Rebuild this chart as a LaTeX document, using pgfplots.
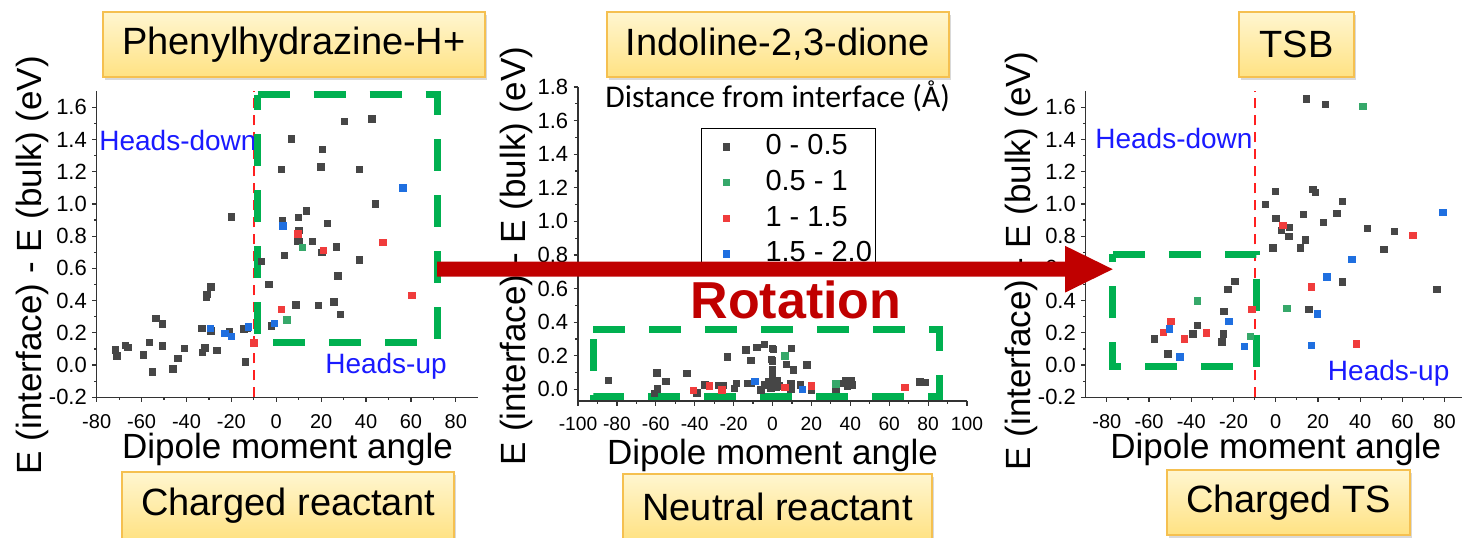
\documentclass[border=0pt]{standalone}
\usepackage{pgfplots}
\pgfplotsset{compat=1.18}
\usepackage{fontspec}
\setmainfont{Liberation Sans}
\newfontfamily\carlito{Carlito}
\usetikzlibrary{shadows}
\definecolor{cgray}{HTML}{464646}
\definecolor{cgreen}{HTML}{36A86A}
\definecolor{cred}{HTML}{F03C3C}
\definecolor{cblue}{HTML}{1F6FE0}
\definecolor{boxgreen}{HTML}{00B050}
\definecolor{darkred}{HTML}{C00000}
\definecolor{axiscol}{HTML}{333333}
\definecolor{boxtop}{HTML}{FFF6D0}
\definecolor{boxbot}{HTML}{FFE283}
\definecolor{boxline}{HTML}{F5C050}
\definecolor{headblue}{HTML}{1A1AFF}
\definecolor{vred}{HTML}{FF2020}

\pgfplotsset{
  panel/.style={
    scale only axis, clip=false,
    axis x line*=bottom, axis y line*=left,
    axis line style={axiscol, line width=0.7pt, -},
    tick align=outside, tick style={axiscol, line width=0.6pt},
    major tick length=2.2pt, minor tick length=1.3pt,
    minor x tick num=1, minor y tick num=1,
    yticklabel style={font=\fontsize{11}{12}\selectfont, xshift=0.8pt,
      /pgf/number format/fixed, /pgf/number format/fixed zerofill,
      /pgf/number format/precision=1, /pgf/number format/assume math mode=true},
    xticklabel style={font=\fontsize{10}{11}\selectfont, inner sep=1pt, yshift=-5.3pt,
      /pgf/number format/fixed, /pgf/number format/precision=0,
      /pgf/number format/assume math mode=true},
    label style={font=\fontsize{17.5}{20}\selectfont, inner sep=0pt},
    xlabel={Dipole moment angle},
    ylabel={E (interface) - E (bulk) (eV)},
  },
  pgray/.style={only marks, mark=square*, mark size=1.6pt, color=cgray},
  pgreen/.style={only marks, mark=square*, mark size=1.6pt, color=cgreen},
  pred/.style={only marks, mark=square*, mark size=1.6pt, color=cred},
  pblue/.style={only marks, mark=square*, mark size=1.6pt, color=cblue},
}
\tikzset{
  gbox/.style={boxgreen, line width=3.5pt, dash pattern=on 16pt off 12pt},
  heads/.style={font=\fontsize{14}{16}\selectfont, text=headblue, inner sep=0pt},
  titlebox/.style={draw=boxline, line width=0.8pt, top color=boxtop, bottom color=boxbot,
    drop shadow={shadow xshift=1pt, shadow yshift=-1.5pt, opacity=0.3},
    font=\fontsize{19}{22}\selectfont, inner sep=0pt, minimum height=32.5pt},
}

\begin{document}
\begin{tikzpicture}
\path[use as bounding box] (0pt,0pt) rectangle (731pt,268.5pt);

% ---------------- Panel 1 ----------------
\begin{axis}[panel, at={(48.35pt,69.85pt)}, anchor=south west,
  width=190.8pt, height=153.05pt,
  xmin=-80, xmax=90, ymin=-0.2, ymax=1.7,
  xtick={-80,-60,-40,-20,0,20,40,60,80},
  ytick={-0.2,0,0.2,0.4,0.6,0.8,1.0,1.2,1.4,1.6},
  xlabel style={at={(axis description cs:0.5,-0.170)}, anchor=center},
  ylabel style={at={(axis description cs:-0.168,0.432)}, anchor=center},
]
\addplot[pgray] coordinates {(-71.6,0.095) (-71.0,0.058) (-67.1,0.122) (-66.1,0.11) (-59.1,0.062) (-56.6,0.14) (-55.2,-0.043) (-53.6,0.29) (-50.6,0.256) (-50.6,0.12) (-46.0,-0.023) (-43.9,0.041) (-40.8,0.103) (-33.1,0.229) (-32.9,0.079) (-31.8,0.107) (-31.2,0.42) (-30.9,0.44) (-29.1,0.486) (-29.2,0.213) (-26.4,0.093) (-20.0,0.92) (-20.8,0.207) (-14.4,0.225) (-13.8,0.019) (-12.8,0.227) (-6.5,0.643) (-3.3,0.502) (-2.1,0.244) (2.4,1.216) (2.7,0.897) (3.7,0.682) (6.7,1.404) (8.8,0.374) (9.8,0.918) (10.1,0.835) (9.4,0.769) (10.4,0.769) (13.5,0.957) (16.2,0.769) (18.7,0.37) (19.9,1.23) (20.6,1.337) (20.3,0.70) (22.9,0.879) (25.7,0.393) (26.7,0.734) (27.5,0.554) (28.5,0.314) (30.3,1.513) (37.1,1.213) (37.1,0.653) (42.6,1.528) (44.2,1.0)};
\addplot[pgreen] coordinates {(4.8,0.281) (11.6,0.73)};
\addplot[pred] coordinates {(-9.9,0.138) (2.4,0.345) (9.7,0.814) (21.1,0.713) (47.5,0.761) (60.4,0.434)};
\addplot[pblue] coordinates {(-29.4,0.229) (-22.9,0.196) (-19.9,0.178) (-12.5,0.238) (-0.7,0.26) (3.0,0.864) (56.4,1.10)};
\addplot[vred, line width=1pt, dash pattern=on 5pt off 3.5pt, mark=none] coordinates {(-10,-0.2) (-10,1.7)};
\node[heads] at (axis cs:-43.8,1.397) {Heads-down};
\node[heads] at (axis cs:48.9,-0.005) {Heads-up};
\draw[gbox] (axis cs:-8.3,1.677) -- (axis cs:71.7,1.677) -- (axis cs:71.7,0.139) -- (axis cs:-8.3,0.139) -- cycle;
\end{axis}

% ---------------- Panel 2 ----------------
\begin{axis}[panel, at={(289pt,67.95pt)}, anchor=south west,
  width=194.5pt, height=157.1pt,
  xmin=-100, xmax=100, ymin=-0.07, ymax=1.8,
  xtick={-100,-80,-60,-40,-20,0,20,40,60,80,100},
  ytick={0,0.2,0.4,0.6,0.8,1.0,1.2,1.4,1.6,1.8},
  xticklabel style={font=\fontsize{9.6}{11}\selectfont, yshift=0.8pt},
  xlabel style={at={(axis description cs:0.5,-0.174)}, anchor=center},
  ylabel style={at={(axis description cs:-0.159,0.462)}, anchor=center},
  legend style={at={(axis cs:-36.9,1.554)}, anchor=north west, draw=black, line width=0.5pt,
    fill=white, inner xsep=0pt, inner ysep=0.3pt, font=\fontsize{14.5}{16}\selectfont,
    nodes={inner sep=2pt, text height=10.8pt, text depth=3pt}, row sep=0pt},
  legend cell align=left,
  legend image code/.code={\path (0pt,0pt) (29.65pt,0pt); \draw[#1] plot coordinates {(12.5pt,0pt)};},
]
\addplot[pgray] coordinates {(-84.3,0.055) (-59.4,0.097) (-60.7,-0.024) (-59.1,0.002) (-54.8,0.049) (-44.0,0.095) (-38.9,-0.02) (-34.8,0.026) (-27.9,0.022) (-25.3,0.022) (-19.7,0.006) (-18.5,0.036) (-23.1,0.194) (-13.7,0.234) (-11.1,0.174) (-8.0,0.25) (-4.3,0.268) (-12.9,0.036) (-11.1,0.036) (-6.0,-0.004) (-0.5,0.179) (0.4,0.238) (-4.3,0.026) (-0.8,0.006) (0.0,0.244) (9.8,0.244) (0.0,0.17) (7.2,0.149) (10.6,0.115) (17.7,0.145) (0.0,0.115) (0.0,0.075) (0.8,0.036) (1.7,0.015) (-0.9,0.015) (9.5,0.032) (9.5,0.0) (14.3,0.026) (20.1,-0.008) (32.6,0.0) (35.2,0.036) (37.7,0.051) (40.3,0.051) (41.1,0.026) (38.6,0.02) (75.8,0.045) (78.4,0.04) (2.5,0.05) (-2.0,0.045) (3.5,0.02)};
\addlegendentry{0 - 0.5}
\addplot[pgreen] coordinates {(6.4,0.2) (32.6,0.032)};
\addlegendentry{0.5 - 1}
\addplot[pred] coordinates {(-40.6,-0.008) (-32.5,0.02) (-26.0,-0.004) (6.4,0.012) (20.1,0.02) (68.1,0.01)};
\addlegendentry{1 - 1.5}
\addplot[pblue] coordinates {(-9.1,0.049) (15.4,0.0)};
\addlegendentry{1.5 - 2.0}
\draw[gbox] (axis cs:-92.2,0.357) -- (axis cs:85.7,0.357) -- (axis cs:85.7,-0.04) -- (axis cs:-92.2,-0.04) -- cycle;
\end{axis}

% ---------------- Panel 3 ----------------
\begin{axis}[panel, at={(542.85pt,69.85pt)}, anchor=south west,
  width=190pt, height=153.05pt,
  xmin=-90, xmax=90, ymin=-0.2, ymax=1.7,
  xtick={-80,-60,-40,-20,0,20,40,60,80},
  ytick={-0.2,0,0.2,0.4,0.6,0.8,1.0,1.2,1.4,1.6},
  xlabel style={at={(axis description cs:0.5,-0.170)}, anchor=center},
  ylabel style={at={(axis description cs:-0.170,0.445)}, anchor=center},
]
\addplot[pgray] coordinates {(-57.5,0.163) (-51.0,0.070) (-39.2,0.194) (-37.0,0.246) (-25.4,0.145) (-24.9,0.194) (-24.5,0.333) (-22.7,0.469) (-19.4,0.521) (-4.8,0.998) (-1.3,0.728) (-0.2,1.077) (0.1,0.912) (2.6,0.837) (6.4,0.856) (6.2,0.80) (11.7,0.728) (13.0,0.934) (14.1,0.777) (14.4,1.652) (17.6,1.091) (18.7,1.071) (15.7,0.345) (22.6,0.885) (23.4,1.617) (28.9,0.943) (31.6,1.015) (31.6,0.517) (43.4,0.85) (51.2,0.719) (56.3,0.831) (76.3,0.471)};
\addplot[pgreen] coordinates {(-37.2,0.399) (-12.0,0.178) (5.3,0.351) (41.3,1.604)};
\addplot[pred] coordinates {(-53.1,0.203) (-49.6,0.271) (-43.3,0.163) (-32.8,0.201) (-11.2,0.345) (3.4,0.866) (16.9,0.486) (38.3,0.132) (64.9,0.806)};
\addplot[pblue] coordinates {(-50.4,0.225) (-45.4,0.05) (-22.2,0.273) (-14.9,0.116) (16.9,0.124) (19.8,0.318) (24.2,0.548) (36.1,0.655) (79.2,0.949)};
\addplot[vred, line width=1pt, dash pattern=on 5pt off 3.5pt, mark=none] coordinates {(-10,-0.2) (-10,1.7)};
\node[heads] at (axis cs:-48.2,1.408) {Heads-down};
\node[heads] at (axis cs:53.5,-0.052) {Heads-up};
\draw[gbox] (axis cs:-77.1,0.688) -- (axis cs:-9.1,0.688) -- (axis cs:-9.1,-0.01) -- (axis cs:-77.1,-0.01) -- cycle;
\end{axis}

% ---------------- Annotations (pixel coordinates) ----------------
\begin{scope}[x=0.5pt, y=-0.5pt, shift={(0pt,268.5pt)}]
\fill[darkred] (437,261.7) -- (1065,261.7) -- (1065,245.8) -- (1112.7,269.2) -- (1065,292.6) -- (1065,276.7) -- (437,276.7) -- cycle;
\node[font=\bfseries\fontsize{26}{30}\selectfont, text=darkred, inner sep=0pt] at (796,300) {Rotation};
\node[font=\carlito\fontsize{15.8}{18}\selectfont, inner sep=0pt] at (777.7,96.7) {Distance from interface (Å)};
\node[titlebox, minimum width=191pt] at (294,44.5) {Phenylhydrazine-H+};
\node[titlebox, minimum width=171pt] at (778,44.5) {Indoline-2,3-dione};
\node[titlebox, minimum width=57.5pt] at (1296.5,44.5) {TSB};
\node[titlebox, minimum width=166pt, minimum height=34pt] at (288,506) {Charged reactant};
\node[titlebox, minimum width=154.5pt, minimum height=33pt] at (777.5,507) {Neutral reactant};
\node[titlebox, minimum width=121.5pt] at (1288.5,502.5) {Charged TS};
\end{scope}
\end{tikzpicture}
\end{document}
